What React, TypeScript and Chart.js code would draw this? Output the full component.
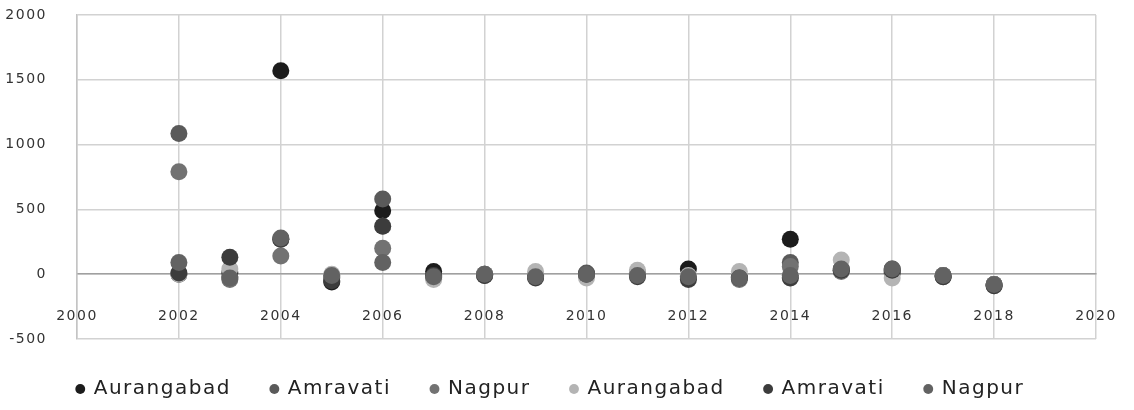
import { useEffect, useRef } from "react";
import { Chart, registerables } from "chart.js";

Chart.register(...registerables);

const years = [2002, 2003, 2004, 2005, 2006, 2007, 2008, 2009, 2010, 2011, 2012, 2013, 2014, 2015, 2016, 2017, 2018];
const seriesNames = ["Aurangabad", "Amravati", "Nagpur", "Aurangabad", "Amravati", "Nagpur"];
const aurangabadA = [0, 10, 1570, -60, 490, 20, 0, -10, 0, 10, 40, -20, 270, 30, 10, -10, -80];
const amravatiA = [1085, -20, 270, -30, 580, -20, -10, -20, 10, 0, -20, -30, 90, 40, 40, -20, -80];
const nagpurA = [790, -40, 140, -20, 200, -30, 0, -10, 0, 10, -30, -40, 60, 20, 20, -10, -90];
const aurangabadB = [0, 40, 270, 0, 370, -40, 0, 20, -30, 30, -10, 20, -30, 110, -30, -10, -80];
const amravatiB = [10, 130, 270, -50, 370, -10, -10, -30, 0, -20, -40, -30, -30, 30, 30, -20, -90];
const nagpurB = [90, -30, 280, -10, 90, -20, 0, -20, 0, -10, -20, -30, -10, 40, 40, -10, -80];
const seriesValues = [aurangabadA, amravatiA, nagpurA, aurangabadB, amravatiB, nagpurB];
const seriesColors = ["#1c1c1c", "#5a5a5a", "#727272", "#b4b4b4", "#3c3c3c", "#626262"];
const xTicks = [2000, 2002, 2004, 2006, 2008, 2010, 2012, 2014, 2016, 2018, 2020];
const yTicks = [-500, 0, 500, 1000, 1500, 2000];

const spacingPlugin = {
  id: "letterSpacing",
  beforeLayout(chart: any) {
    chart.ctx.letterSpacing = "1.5px";
  },
  beforeDraw(chart: any) {
    chart.ctx.letterSpacing = "1.5px";
  },
};

export default function App() {
  const ref = useRef<HTMLCanvasElement>(null);
  useEffect(() => {
    if (!ref.current) return;
    const datasets = seriesNames.map((name, i) => ({
      label: name,
      data: years.map((yr, j) => ({ x: yr, y: seriesValues[i][j] })),
      backgroundColor: seriesColors[i],
      borderColor: seriesColors[i],
      borderWidth: 0,
      pointRadius: 8.5,
      pointHoverRadius: 8.5,
      order: seriesNames.length - 1 - i,
    }));
    const chart = new Chart(ref.current, {
      type: "scatter",
      data: { datasets },
      plugins: [spacingPlugin],
      options: {
        animation: false,
        responsive: true,
        maintainAspectRatio: false,
        layout: { padding: { left: 5, right: 38, top: 15, bottom: 1 } },
        plugins: {
          tooltip: { enabled: false },
          legend: {
            position: "bottom",
            labels: {
              usePointStyle: true,
              pointStyle: "circle",
              boxWidth: 7,
              boxHeight: 7,
              padding: 40,
              color: "#222",
              font: { family: "DejaVu Sans", size: 20 },
              sort: (a: any, b: any) => a.datasetIndex - b.datasetIndex,
            },
          },
        },
        scales: {
          x: {
            type: "linear",
            position: { y: 0 },
            min: 2000,
            max: 2020,
            afterBuildTicks: (axis: any) => {
              axis.ticks = xTicks.map((v) => ({ value: v }));
            },
            ticks: {
              padding: 0,
              color: "#333",
              font: { family: "DejaVu Sans", size: 14 },
              callback: (v: any) => String(v),
              maxRotation: 0,
              autoSkip: false,
            },
            grid: { color: "#d2d2d2", lineWidth: 1.5, drawTicks: true, tickLength: 34, tickColor: "rgba(0,0,0,0)" },
            border: { color: "#a0a0a0", width: 1.5 },
          },
          y: {
            type: "linear",
            min: -500,
            max: 2000,
            afterBuildTicks: (axis: any) => {
              axis.ticks = yTicks.map((v) => ({ value: v }));
            },
            afterFit: (s: any) => {
              s.width = 72;
            },
            ticks: {
              padding: 0,
              color: "#333",
              font: { family: "DejaVu Sans", size: 14 },
              callback: (v: any) => String(v),
            },
            grid: { color: "#d2d2d2", lineWidth: 1.5, drawTicks: true, tickLength: 30, tickColor: "rgba(0,0,0,0)" },
            border: { color: "#c4c4c4", width: 1.5 },
          },
        },
      },
    } as any);
    return () => chart.destroy();
  }, []);
  return (
    <div style={{ position: "absolute", left: 0, top: 0, width: 1134, height: 410, background: "#fff" }}>
      <canvas ref={ref} />
    </div>
  );
}
